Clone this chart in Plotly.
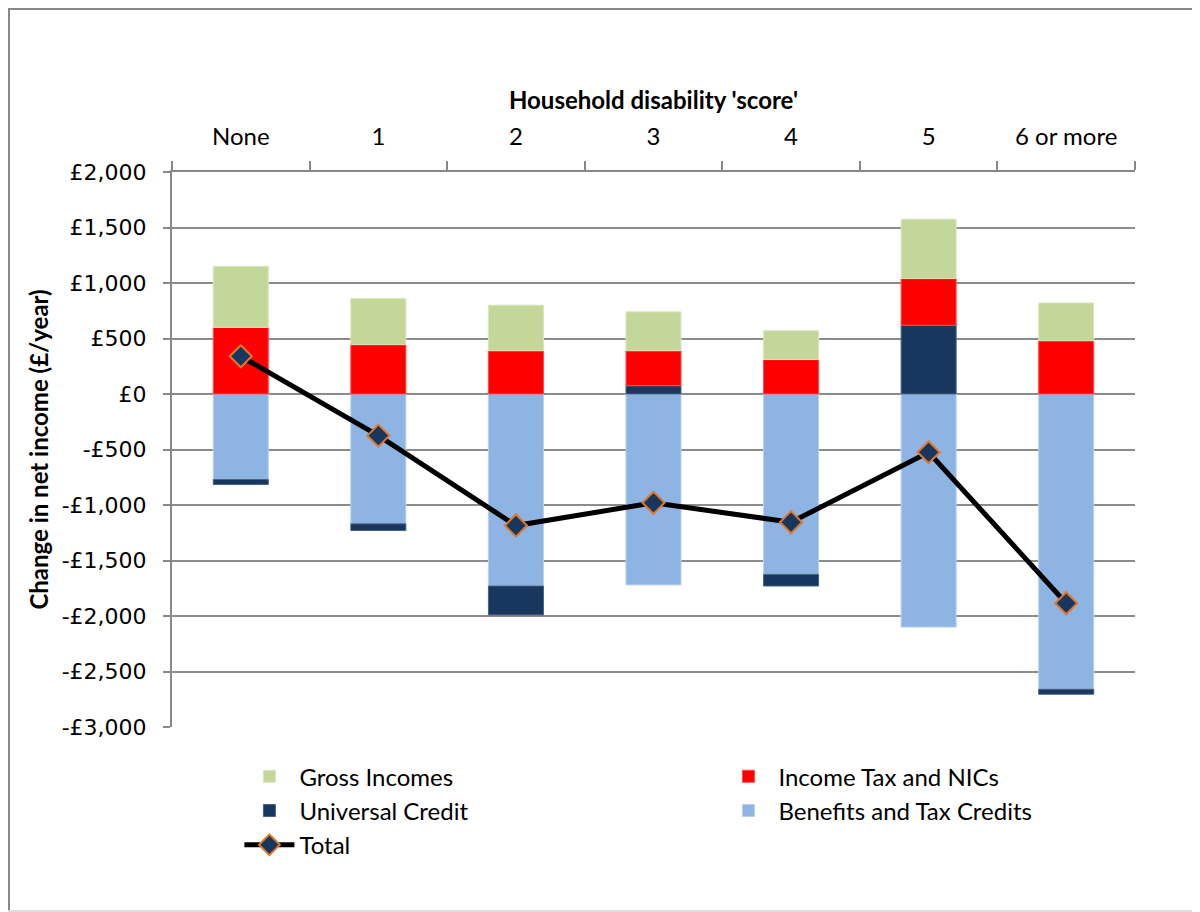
import plotly.graph_objects as go

categories = ["None", "1", "2", "3", "4", "5", "6 or more"]
gross_incomes = [550, 415, 410, 350, 260, 535, 340]
income_tax_nics = [600, 445, 390, 315, 310, 420, 480]
universal_credit = [-45, -60, -260, 75, -105, 620, -45]
benefits_tax_credits = [-770, -1170, -1730, -1720, -1625, -2100, -2660]
total = [340, -375, -1185, -980, -1155, -525, -1885]

y_tickvals = [2000, 1500, 1000, 500, 0, -500, -1000, -1500, -2000, -2500, -3000]
y_ticktext = ["£2,000", "£1,500", "£1,000", "£500", "£0", "-£500", "-£1,000",
              "-£1,500", "-£2,000", "-£2,500", "-£3,000"]

FONT = "Lato"

fig = go.Figure()
fig.add_trace(go.Bar(x=categories, y=benefits_tax_credits, name="Benefits and Tax Credits",
                     marker=dict(color="#8eb4e3", line=dict(width=1, color="#b8d0ee")), legendrank=4))
fig.add_trace(go.Bar(x=categories, y=universal_credit, name="Universal Credit",
                     marker=dict(color="#17375e", line=dict(width=1, color="#4a6282")), legendrank=3))
fig.add_trace(go.Bar(x=categories, y=income_tax_nics, name="Income Tax and NICs",
                     marker=dict(color="#ff0000", line=dict(width=1, color="#ff4a4a")), legendrank=2))
fig.add_trace(go.Bar(x=categories, y=gross_incomes, name="Gross Incomes",
                     marker=dict(color="#c4d79b", line=dict(width=1, color="#d8e6bd")), legendrank=1))
fig.add_trace(go.Scatter(x=categories, y=total, name="Total", mode="lines+markers",
                         line=dict(color="black", width=5),
                         marker=dict(symbol="diamond", size=17, color="#17375e",
                                     line=dict(color="#e0782a", width=2)),
                         legendrank=5))

fig.update_layout(
    width=1192, height=904,
    paper_bgcolor="white", plot_bgcolor="white",
    barmode="relative", bargap=0.6,
    margin=dict(l=164, r=65, t=164, b=185, autoexpand=False),
    font=dict(family=FONT, size=24, color="black"),
    showlegend=True,
    legend=dict(orientation="h", x=0.07, xanchor="left", y=-0.049, yanchor="top",
                entrywidth=414, entrywidthmode="pixels", traceorder="normal",
                font=dict(family=FONT, size=24, color="black"), itemwidth=50,
                bgcolor="rgba(0,0,0,0)"),
    xaxis=dict(type="category", side="top", showline=True, linecolor="#888888", linewidth=2,
               ticks="outside", tickson="boundaries", ticklen=9, tickcolor="#888888", tickwidth=2,
               tickfont=dict(family=FONT, size=24, color="black"), showgrid=False,
               ticklabelstandoff=15,
               title=dict(text="<b>Household disability 'score'</b>", standoff=5,
                          font=dict(family=FONT, size=24, color="black"))),
    yaxis=dict(range=[-3000, 2000], tickvals=y_tickvals, ticktext=y_ticktext,
               showline=True, linecolor="#888888", linewidth=2, ticks="outside", ticklen=7,
               tickcolor="#888888", tickwidth=2, showgrid=True, gridcolor="#8c8c8c", gridwidth=2,
               zeroline=False, tickfont=dict(family="DejaVu Sans", size=22, color="black"),
               ticklabelstandoff=12,
               title=dict(text="<b>Change in net income (£/year)</b>", standoff=6,
                          font=dict(family=FONT, size=24, color="black"))),
)

# chart border (Excel chart area frame)
def px_x(v):
    return (v - 164) / 963

def px_y(v):
    return (719 - v) / 555

fig.add_shape(type="line", xref="paper", yref="paper", x0=px_x(1), x1=px_x(1),
              y0=px_y(0), y1=px_y(904), line=dict(color="#888888", width=2))
fig.add_shape(type="line", xref="paper", yref="paper", x0=px_x(0), x1=px_x(1192),
              y0=px_y(1), y1=px_y(1), line=dict(color="#888888", width=2))
fig.add_shape(type="line", xref="paper", yref="paper", x0=px_x(0), x1=px_x(1192),
              y0=px_y(903), y1=px_y(903), line=dict(color="#dddddd", width=2))

fig.write_html("out.html")
